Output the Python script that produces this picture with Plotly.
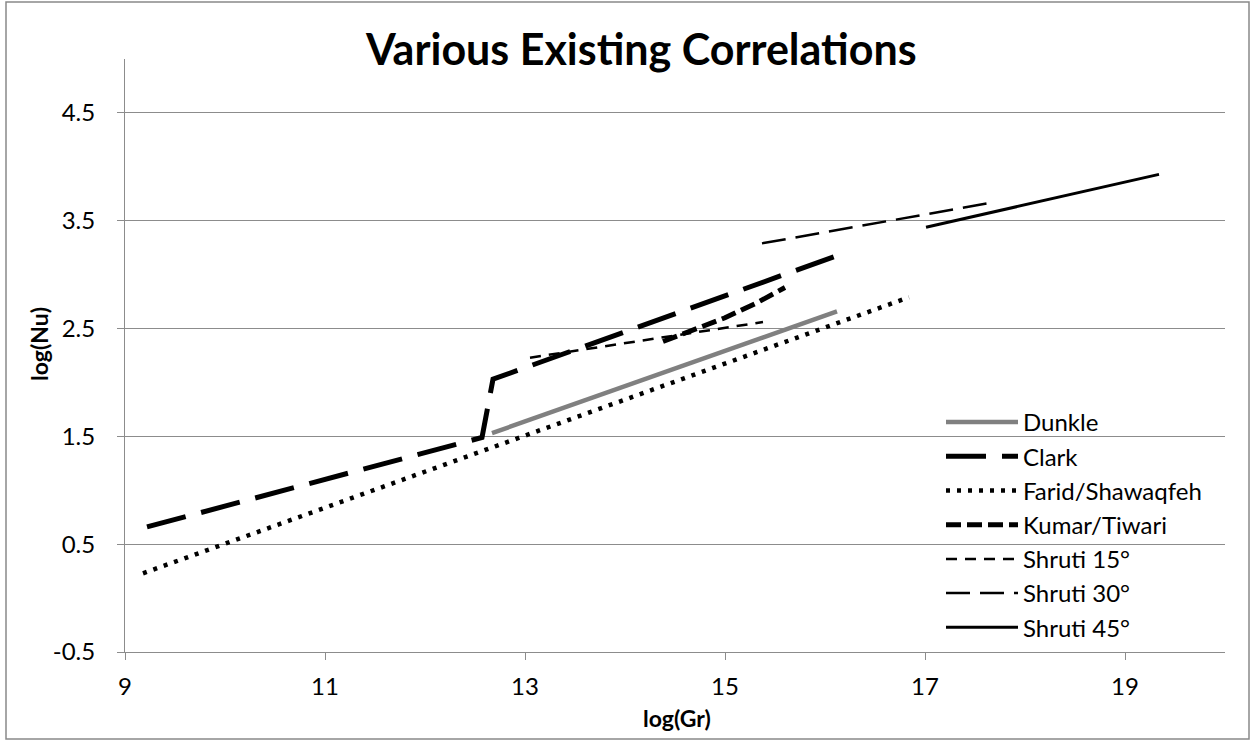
import plotly.graph_objects as go

# ---- data: log(Gr) vs log(Nu) for each correlation ----
dunkle_x = [12.67, 16.12]
dunkle_y = [1.53, 2.66]

clark_x = [9.22, 12.57, 12.68, 16.13]
clark_y = [0.66, 1.49, 2.03, 3.18]

farid_x = [9.18, 16.84]
farid_y = [0.23, 2.79]

kumar_x = [14.38, 14.65, 15.0, 15.3, 15.6]
kumar_y = [2.38, 2.48, 2.60, 2.73, 2.88]

shruti15_x = [13.05, 15.38]
shruti15_y = [2.23, 2.56]

shruti30_x = [15.37, 17.68]
shruti30_y = [3.29, 3.67]

shruti45_x = [17.01, 19.34]
shruti45_y = [3.44, 3.93]

x_ticks = [9, 11, 13, 15, 17, 19]
y_ticks = [-0.5, 0.5, 1.5, 2.5, 3.5, 4.5]

FONT = "Lato"
GRID = "#8c8c8c"

series = [
    ("Dunkle", dunkle_x, dunkle_y, dict(color="#808080", width=4.5, dash="solid")),
    ("Clark", clark_x, clark_y, dict(color="black", width=5, dash="40px,16px")),
    ("Farid/Shawaqfeh", farid_x, farid_y, dict(color="black", width=4.5, dash="4px,7px")),
    ("Kumar/Tiwari", kumar_x, kumar_y, dict(color="black", width=5, dash="15px,6px")),
    ("Shruti 15°", shruti15_x, shruti15_y, dict(color="black", width=2.5, dash="11px,8px")),
    ("Shruti 30°", shruti30_x, shruti30_y, dict(color="black", width=2.5, dash="24px,10px")),
    ("Shruti 45°", shruti45_x, shruti45_y, dict(color="black", width=3, dash="solid")),
]

fig = go.Figure()
for i, (name, xs, ys, line) in enumerate(series):
    fig.add_trace(go.Scatter(
        x=xs, y=ys, mode="lines", name=name, line=line,
        legendgroup=f"g{i}", hoverinfo="x+y+name",
    ))

fig.update_layout(
    width=1253, height=742,
    margin=dict(l=125, r=28, t=59, b=90),
    paper_bgcolor="white", plot_bgcolor="white",
    font=dict(family=FONT, size=24, color="black"),
    showlegend=True,
    legend=dict(
        x=(941 - 125) / 1100, y=(652 - 400) / 593, xanchor="left", yanchor="top",
        bgcolor="rgba(0,0,0,0)", font=dict(family=FONT, size=24),
        itemwidth=72, tracegroupgap=10, traceorder="normal",
    ),
    xaxis=dict(
        range=[9, 20], tickvals=x_ticks, ticktext=[str(v) for v in x_ticks],
        showgrid=False, zeroline=False, showline=True, linecolor=GRID, linewidth=1,
        ticks="outside", ticklen=7, tickcolor=GRID, ticklabelstandoff=6,
        tickfont=dict(family=FONT, size=24),
    ),
    yaxis=dict(
        range=[-0.5, 5.0], tickvals=y_ticks, ticktext=[f"{v:g}" for v in y_ticks],
        showgrid=True, gridcolor=GRID, gridwidth=1, zeroline=False,
        showline=True, linecolor=GRID, linewidth=1,
        ticks="outside", ticklen=7, tickcolor=GRID, ticklabelstandoff=17,
        tickfont=dict(family=FONT, size=24),
    ),
    annotations=[
        dict(text="<b>Various Existing Correlations</b>", xref="paper", yref="paper",
             x=(641 - 125) / 1100, y=(652 - 48) / 593, showarrow=False,
             font=dict(family=FONT, size=43), xanchor="center", yanchor="middle"),
        dict(text="<b>log(Gr)</b>", xref="paper", yref="paper",
             x=(677 - 125) / 1100, y=(652 - 718) / 593, showarrow=False,
             font=dict(family=FONT, size=23), xanchor="center", yanchor="middle"),
        dict(text="<b>log(Nu)</b>", xref="paper", yref="paper", textangle=-90,
             x=(39 - 125) / 1100, y=(652 - 344) / 593, showarrow=False,
             font=dict(family=FONT, size=23), xanchor="center", yanchor="middle"),
    ],
    shapes=[
        dict(type="rect", xref="paper", yref="paper",
             x0=(6 - 125) / 1100, x1=(1249 - 125) / 1100,
             y0=(652 - 739) / 593, y1=(652 - 2) / 593,
             line=dict(color="#898989", width=1.5), fillcolor="rgba(0,0,0,0)", layer="below"),
    ],
)

fig.write_html("out.html")
